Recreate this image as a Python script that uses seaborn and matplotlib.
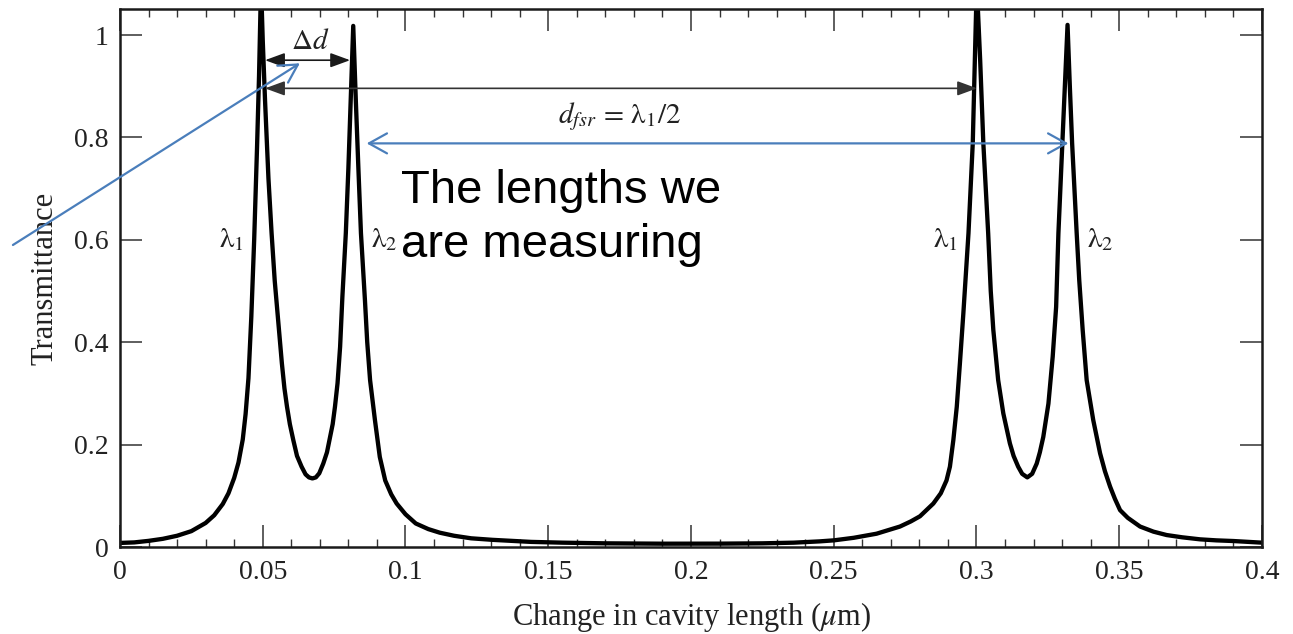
import matplotlib
matplotlib.use('Agg')
import matplotlib.pyplot as plt
from matplotlib.ticker import MultipleLocator, FixedLocator
import seaborn as sns
import pandas as pd

# ---- data ----
cavity_change_um = [
    0.000, 0.005, 0.010, 0.015, 0.020, 0.025, 0.030, 0.033, 0.036, 0.038,
    0.040, 0.0415, 0.043, 0.044, 0.045, 0.046, 0.047, 0.048, 0.0487, 0.0494,
    0.0500, 0.0508, 0.0520, 0.0531, 0.0542, 0.0552, 0.0567, 0.0576, 0.0585, 0.0595,
    0.0607, 0.0620, 0.0636, 0.0650, 0.0662, 0.0674, 0.0686, 0.0698, 0.0712, 0.0725,
    0.0736, 0.0745, 0.0753, 0.0762, 0.0771, 0.0779, 0.0791, 0.0800, 0.0808, 0.0817,
    0.0826, 0.0835, 0.0844, 0.0858, 0.0866, 0.0876, 0.0893, 0.0910, 0.0929, 0.0950,
    0.0969, 0.1000, 0.1036, 0.1080, 0.1120, 0.1170, 0.1230, 0.1305, 0.1370, 0.1440,
    0.1550, 0.1700, 0.1900, 0.2100, 0.2250, 0.2360, 0.2450, 0.2500, 0.2570, 0.2650,
    0.2732, 0.2770, 0.2802, 0.2849, 0.2875, 0.2895, 0.2907, 0.2919, 0.2931, 0.2942,
    0.2954, 0.2972, 0.2987, 0.3001, 0.3013, 0.3024, 0.3041, 0.3050, 0.3059, 0.3076,
    0.3094, 0.3117, 0.3130, 0.3146, 0.3160, 0.3178, 0.3195, 0.3211, 0.3222, 0.3234,
    0.3252, 0.3267, 0.3279, 0.3287, 0.3301, 0.3310, 0.3319, 0.3327, 0.3335, 0.3351,
    0.3360, 0.3372, 0.3386, 0.3409, 0.3433, 0.3450, 0.3468, 0.3485, 0.3503, 0.3530,
    0.3573, 0.3620, 0.3666, 0.3720, 0.3783, 0.3840, 0.3900, 0.3950, 0.4000,
]
transmittance = [
    0.008, 0.009, 0.012, 0.016, 0.022, 0.031, 0.047, 0.062, 0.084, 0.105,
    0.135, 0.165, 0.210, 0.260, 0.330, 0.450, 0.600, 0.780, 0.920, 1.100,
    0.990, 0.873, 0.720, 0.613, 0.520, 0.456, 0.359, 0.310, 0.274, 0.240,
    0.209, 0.178, 0.157, 0.142, 0.136, 0.134, 0.136, 0.144, 0.163, 0.185,
    0.215, 0.240, 0.274, 0.320, 0.391, 0.489, 0.613, 0.740, 0.873, 1.018,
    0.873, 0.740, 0.613, 0.482, 0.400, 0.326, 0.248, 0.176, 0.130, 0.103,
    0.085, 0.064, 0.046, 0.035, 0.028, 0.022, 0.017, 0.014, 0.012, 0.010,
    0.0085, 0.0072, 0.0065, 0.0066, 0.0072, 0.0085, 0.011, 0.013, 0.018, 0.026,
    0.040, 0.050, 0.060, 0.085, 0.105, 0.130, 0.157, 0.209, 0.274, 0.359,
    0.456, 0.613, 0.789, 1.100, 0.950, 0.789, 0.613, 0.500, 0.424, 0.326,
    0.261, 0.2025, 0.178, 0.157, 0.143, 0.136, 0.143, 0.163, 0.185, 0.215,
    0.280, 0.372, 0.469, 0.613, 0.789, 0.900, 1.020, 0.900, 0.789, 0.613,
    0.521, 0.424, 0.326, 0.248, 0.183, 0.148, 0.118, 0.094, 0.072, 0.057,
    0.040, 0.030, 0.0234, 0.019, 0.015, 0.013, 0.0117, 0.010, 0.0085,
]
x_ticks = [0, 0.05, 0.1, 0.15, 0.2, 0.25, 0.3, 0.35, 0.4]
x_tick_labels = ['0', '0.05', '0.1', '0.15', '0.2', '0.25', '0.3', '0.35', '0.4']
y_ticks = [0, 0.2, 0.4, 0.6, 0.8, 1.0]
y_tick_labels = ['0', '0.2', '0.4', '0.6', '0.8', '1']
peak_labels = [r'$\mathrm{\lambda}_1$', r'$\mathrm{\lambda}_2$',
               r'$\mathrm{\lambda}_1$', r'$\mathrm{\lambda}_2$']
peak_label_x = [0.0389, 0.0925, 0.2893, 0.3433]
peak_label_y = 0.60

# ---- style ----
sns.set_style('ticks')
plt.rcParams['font.family'] = ['Liberation Serif', 'DejaVu Serif']
plt.rcParams['mathtext.fontset'] = 'stix'

fig = plt.figure(figsize=(12.93, 6.34), dpi=100)
ax = fig.add_axes([0.0928, 0.1372, 0.8832, 0.8486])

df = pd.DataFrame({'x': cavity_change_um, 'T': transmittance})
sns.lineplot(data=df, x='x', y='T', ax=ax, color='black', linewidth=3.1,
             estimator=None, sort=False)

ax.set_xlim(0, 0.4)
ax.set_ylim(0, 1.051)
ax.xaxis.set_major_locator(FixedLocator(x_ticks))
ax.set_xticklabels(x_tick_labels)
ax.yaxis.set_major_locator(FixedLocator(y_ticks))
ax.set_yticklabels(y_tick_labels)
ax.xaxis.set_minor_locator(MultipleLocator(0.01))

for s in ax.spines.values():
    s.set_linewidth(1.8)
    s.set_color('#1a1a1a')
    s.set_visible(True)

ax.tick_params(axis='both', which='both', direction='in', top=True, right=True,
               colors='#333333', labelcolor='#222222')
ax.tick_params(axis='both', which='major', length=15.6, width=1.1, labelsize=20, pad=8)
ax.tick_params(axis='x', which='major', pad=9)
ax.tick_params(axis='both', which='minor', length=6, width=1.0)
ax.tick_params(axis='y', which='minor', left=False, right=False)

ax.set_xlabel(r'Change in cavity length ($\mu$m)', fontsize=22, color='#222222', labelpad=11)
ax.set_ylabel('Transmittance', fontsize=22, color='#222222', labelpad=10.5)

# ---- annotations ----
for lab, lx in zip(peak_labels, peak_label_x):
    ax.text(lx, peak_label_y, lab, ha='center', va='center', fontsize=21, color='#222222')

ax.text(0.0666, 0.986, r'$\Delta d$', ha='center', va='center', fontsize=21, color='#222222')
ax.annotate('', xy=(0.0508, 0.951), xytext=(0.0806, 0.951),
            arrowprops=dict(arrowstyle='<|-|>,head_length=0.6,head_width=0.22',
                            color='#1a1a1a', lw=1.2, shrinkA=0, shrinkB=0,
                            mutation_scale=20))
ax.annotate('', xy=(0.0508, 0.896), xytext=(0.3002, 0.896),
            arrowprops=dict(arrowstyle='<|-|>,head_length=0.6,head_width=0.22',
                            color='#333333', lw=1.2, shrinkA=0, shrinkB=0,
                            mutation_scale=20))
ax.text(0.175, 0.84, r'$d_{fsr}\,=\,\mathrm{\lambda}_1/2$', ha='center', va='center',
        fontsize=21, color='#222222')

blue = '#4a7ebb'
ax.annotate('', xy=(0.0864, 0.7885), xytext=(0.3322, 0.7885),
            arrowprops=dict(arrowstyle='<->,head_length=0.65,head_width=0.36',
                            color=blue, lw=1.6, shrinkA=0, shrinkB=0,
                            mutation_scale=20))
ax.annotate('', xy=(0.063, 0.945), xytext=(-0.0375, 0.590),
            arrowprops=dict(arrowstyle='->,head_length=0.65,head_width=0.36',
                            color=blue, lw=1.6, shrinkA=0, shrinkB=0,
                            mutation_scale=20),
            annotation_clip=False)

ax.text(0.0984, 0.672, 'The lengths we', ha='left', va='baseline', fontsize=34,
        family=['Liberation Sans', 'DejaVu Sans'], color='black')
ax.text(0.0984, 0.566, 'are measuring', ha='left', va='baseline', fontsize=34,
        family=['Liberation Sans', 'DejaVu Sans'], color='black')

fig.savefig('out.png', dpi=100)
